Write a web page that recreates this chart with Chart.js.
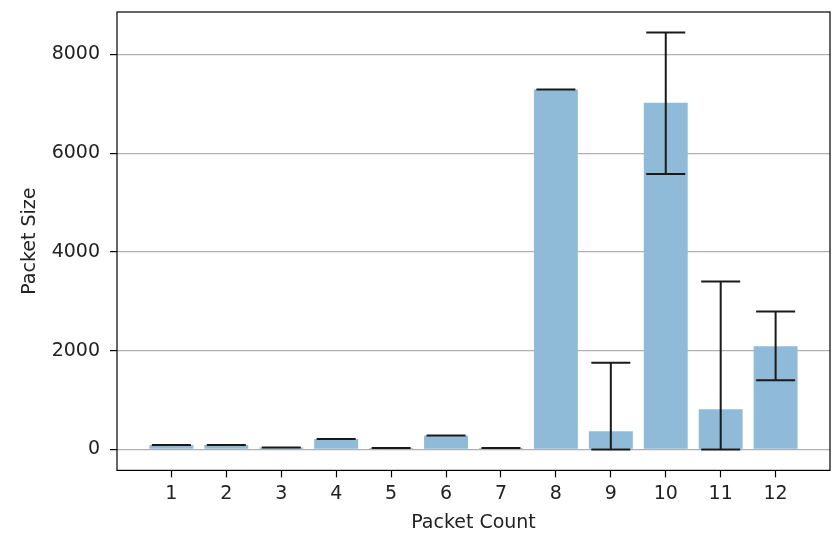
<!DOCTYPE html>
<html>
<head>
<meta charset="utf-8">
<script src="https://cdn.jsdelivr.net/npm/chart.js@4"></script>
<style>
  html, body { margin: 0; padding: 0; background: #fff; }
  #wrap { width: 833px; height: 540px; }
</style>
</head>
<body>
<div id="wrap"><canvas id="myChart" width="833" height="540"></canvas></div>
<script>
// packet counts on the x axis
const packetCounts = [1, 2, 3, 4, 5, 6, 7, 8, 9, 10, 11, 12];
// mean packet size per count
const packetSizes = [90, 90, 40, 210, 30, 280, 30, 7290, 370, 7020, 814, 2090];
// error below / above the mean
const errLow = [0, 0, 0, 0, 0, 0, 0, 0, 370, 1440, 814, 690];
const errHigh = [0, 0, 0, 0, 0, 0, 0, 0, 1387, 1425, 2586, 704];
const yTicks = [0, 2000, 4000, 6000, 8000];

const FONT = "'DejaVu Sans', sans-serif";
const FONT_SIZE = 19;

// draws error bars and the frame round the plot area
const errorBars = {
  id: "errorBars",
  afterDatasetsDraw(chart) {
    const { ctx, scales, chartArea } = chart;
    const x = scales.x, y = scales.y;
    ctx.save();
    ctx.strokeStyle = "#1a1a1a";
    ctx.lineWidth = 2;
    packetCounts.forEach((c, i) => {
      const px = x.getPixelForValue(c);
      const lo = y.getPixelForValue(packetSizes[i] - errLow[i]);
      const hi = y.getPixelForValue(packetSizes[i] + errHigh[i]);
      ctx.beginPath();
      ctx.moveTo(px, lo);
      ctx.lineTo(px, hi);
      ctx.moveTo(px - 19.5, lo);
      ctx.lineTo(px + 19.5, lo);
      ctx.moveTo(px - 19.5, hi);
      ctx.lineTo(px + 19.5, hi);
      ctx.stroke();
    });
    ctx.strokeStyle = "#000";
    ctx.lineWidth = 1.2;
    ctx.strokeRect(chartArea.left, chartArea.top,
      chartArea.right - chartArea.left, chartArea.bottom - chartArea.top);
    ctx.restore();
  },
};

const ctx = document.getElementById("myChart").getContext("2d");

window.myChart = new Chart(ctx, {
  type: "bar",
  data: {
    datasets: [
      {
        label: "Packet Size",
        data: packetCounts.map((c, i) => ({ x: c, y: packetSizes[i] })),
        backgroundColor: "rgb(143, 187, 217)",
        borderWidth: 0,
        barPercentage: 0.8,
        categoryPercentage: 1.0,
      },
    ],
  },
  options: {
    responsive: false,
    animation: false,
    layout: { padding: { top: 12, right: 3, left: 0, bottom: 6 } },
    plugins: {
      legend: { display: false },
      tooltip: { enabled: false },
    },
    scales: {
      x: {
        type: "linear",
        offset: false,
        min: 0.01,
        max: 12.99,
        afterBuildTicks: (axis) => {
          axis.ticks = packetCounts.map((v) => ({ value: v }));
        },
        grid: {
          display: true,
          offset: false,
          drawOnChartArea: false,
          drawTicks: true,
          tickLength: 7,
          tickColor: "#000",
          tickWidth: 1.2,
        },
        border: { display: false },
        ticks: {
          color: "#222",
          font: { family: FONT, size: FONT_SIZE },
          padding: 5,
          maxRotation: 0,
          autoSkip: false,
          callback: (v) => String(v),
        },
        title: {
          display: true,
          text: "Packet Count",
          color: "#222",
          font: { family: FONT, size: FONT_SIZE },
          padding: { top: 1, bottom: 0 },
        },
      },
      y: {
        min: -425,
        max: 8860,
        afterBuildTicks: (axis) => {
          axis.ticks = yTicks.map((v) => ({ value: v }));
        },
        afterFit: (axis) => {
          axis.width = 117;
          axis.paddingTop = 0;
          axis.paddingBottom = 0;
        },
        grid: {
          color: "#b0b0b0",
          lineWidth: 1.2,
          tickColor: "#000",
          tickLength: 7,
          tickWidth: 1.2,
        },
        border: { display: false },
        ticks: {
          color: "#222",
          font: { family: FONT, size: FONT_SIZE },
          padding: 10,
          callback: (v) => String(v),
        },
        title: {
          display: true,
          text: "Packet Size",
          color: "#222",
          font: { family: FONT, size: FONT_SIZE },
          padding: { top: 19, bottom: 0 },
        },
      },
    },
  },
  plugins: [errorBars],
});
</script>
</body>
</html>
